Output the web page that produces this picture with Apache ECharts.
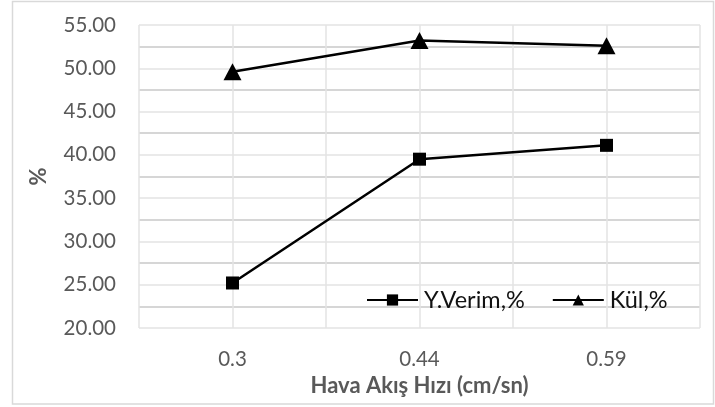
<!DOCTYPE html>
<html>
<head>
<meta charset="utf-8">
<script src="https://cdn.jsdelivr.net/npm/echarts@6/dist/echarts.min.js"></script>
<style>
  html, body { margin: 0; padding: 0; background: #ffffff; }
  #chart { width: 715px; height: 407px; }
</style>
</head>
<body>
<div id="chart"></div>
<script>
// Air flow rate categories (cm/sn)
const categories = ['0.3', '0.44', '0.59'];
// Yield (%) and ash (%) at each flow rate
const yieldValues = [25.2, 39.5, 41.1];
const ashValues = [49.6, 53.2, 52.6];
const seriesNames = ['Y.Verim,%', 'Kül,%'];
const xAxisTitle = 'Hava Akış Hızı (cm/sn)';
const yAxisTitle = '%';

const FONT = 'Lato';
const chart = echarts.init(document.getElementById('chart'), null, { renderer: 'canvas' });

chart.setOption({
  animation: false,
  backgroundColor: '#ffffff',
  textStyle: { fontFamily: FONT },
  graphic: [{
    type: 'rect',
    shape: { x: 12.5, y: 1.5, width: 701, height: 402.5 },
    style: { fill: 'none', stroke: '#d9d9d9', lineWidth: 1.5 },
    silent: true,
    z: 0
  }],
  grid: { left: 139, right: 15, top: 25, bottom: 79, containLabel: false },
  legend: {
    data: seriesNames,
    left: 361,
    top: 283,
    itemWidth: 51,
    itemHeight: 14,
    itemGap: 27,
    textStyle: { fontFamily: FONT, fontSize: 23.5, color: '#111111', padding: [0, 0, 0, 1] },
    backgroundColor: 'rgba(0,0,0,0)'
  },
  xAxis: [{
    type: 'category',
    data: categories,
    boundaryGap: true,
    name: xAxisTitle,
    nameLocation: 'middle',
    nameGap: 46,
    nameTextStyle: { fontFamily: FONT, fontSize: 22, fontWeight: 'bold', color: '#595959' },
    axisLine: { show: false },
    axisTick: { show: false },
    axisLabel: { margin: 21, fontFamily: FONT, fontSize: 20.5, color: '#595959' },
    splitLine: { show: false }
  }, {
    // half-category grid lines (band edges and band centres)
    type: 'value',
    min: 0,
    max: 3,
    interval: 0.5,
    show: true,
    position: 'bottom',
    axisLine: { show: false },
    axisTick: { show: false },
    axisLabel: { show: false },
    splitLine: { show: true, lineStyle: { color: '#e3e3e3', width: 1.5 } }
  }],
  yAxis: {
    type: 'value',
    min: 20,
    max: 55,
    interval: 5,
    name: yAxisTitle,
    nameLocation: 'middle',
    nameRotate: 90,
    nameGap: 89,
    nameTextStyle: { fontFamily: FONT, fontSize: 22, fontWeight: 'bold', color: '#595959' },
    axisLine: { show: false },
    axisTick: { show: false },
    axisLabel: {
      margin: 23,
      fontFamily: FONT,
      fontSize: 20.5,
      color: '#595959',
      formatter: v => v.toFixed(2)
    },
    splitLine: { show: true, lineStyle: { color: '#e3e3e3', width: 1.5 } },
    minorTick: { show: false, splitNumber: 2 },
    minorSplitLine: { show: true, lineStyle: { color: '#c9c9c9', width: 1.5 } }
  },
  series: [{
    name: seriesNames[0],
    type: 'line',
    xAxisIndex: 0,
    data: yieldValues,
    symbol: 'rect',
    symbolSize: 13,
    lineStyle: { color: '#000000', width: 2.5 },
    itemStyle: { color: '#000000' },
    z: 3
  }, {
    name: seriesNames[1],
    type: 'line',
    xAxisIndex: 0,
    data: ashValues,
    symbol: 'triangle',
    symbolSize: [18, 17],
    lineStyle: { color: '#000000', width: 2.5 },
    itemStyle: { color: '#000000' },
    z: 3
  }]
});
</script>
</body>
</html>
